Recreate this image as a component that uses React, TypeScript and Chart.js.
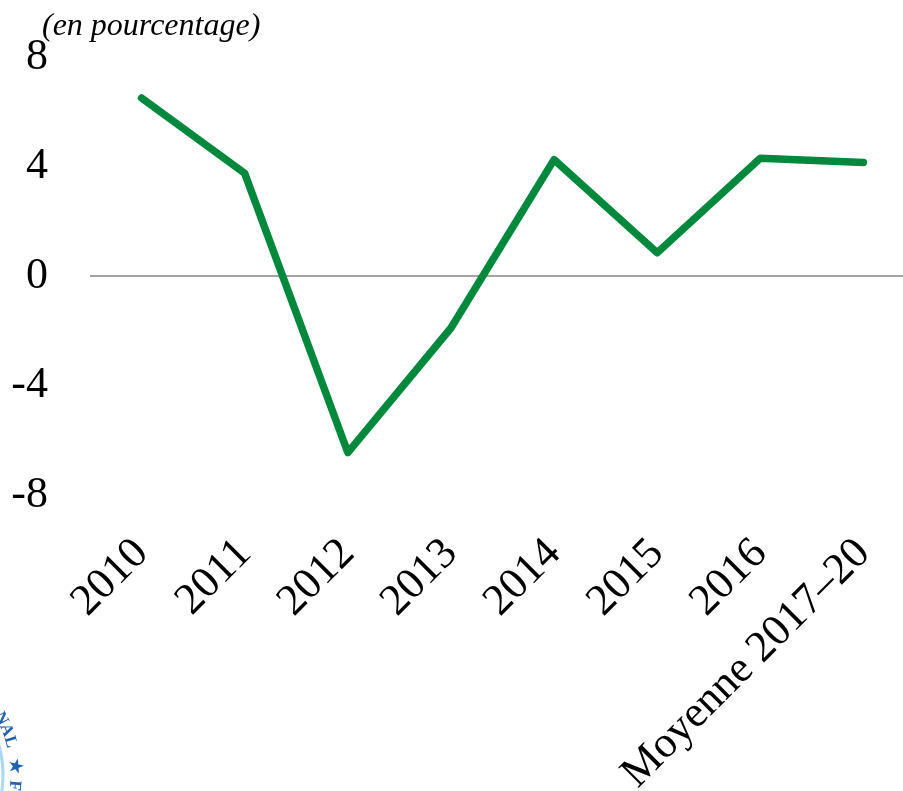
import React, { useEffect, useRef } from "react";
import { Chart, registerables } from "chart.js";

Chart.register(...registerables);

const categories: string[] = ["2010", "2011", "2012", "2013", "2014", "2015", "2016", "Moyenne 2017–20"];
const values: number[] = [6.5, 3.75, -6.45, -1.9, 4.25, 0.85, 4.3, 4.15];
const yMin = -8;
const yMax = 8;
const yStep = 4;
const unitLabel = "(en pourcentage)";
const sealLetters: { ch: string; deg: number }[] = [
  { ch: "N", deg: -28 },
  { ch: "A", deg: -22 },
  { ch: "L", deg: -16 },
  { ch: "★", deg: -4 },
  { ch: "F", deg: 5 },
];

const FONT = "'Liberation Serif', 'Times New Roman', serif";

const decorPlugin = {
  id: "decor",
  afterDraw(chart: any) {
    const ctx = chart.ctx as CanvasRenderingContext2D;
    ctx.save();
    ctx.fillStyle = "#000";
    ctx.font = `italic 32px ${FONT}`;
    ctx.textAlign = "left";
    ctx.textBaseline = "alphabetic";
    ctx.fillText(unitLabel, 42, 35);

    // partial seal in bottom-left corner
    const cx = -105;
    const cy = 775;
    ctx.strokeStyle = "#a8d8f5";
    ctx.lineWidth = 3;
    ctx.beginPath();
    ctx.arc(cx, cy, 108, -0.6, 0.6);
    ctx.stroke();
    ctx.fillStyle = "#1f63b0";
    ctx.font = `bold 17px ${FONT}`;
    ctx.textAlign = "center";
    ctx.textBaseline = "middle";
    for (const l of sealLetters) {
      const th = (l.deg * Math.PI) / 180;
      ctx.save();
      ctx.translate(cx + 120 * Math.cos(th), cy + 120 * Math.sin(th));
      ctx.rotate(th + Math.PI / 2);
      ctx.fillText(l.ch, 0, 0);
      ctx.restore();
    }
    ctx.restore();
  },
};

const zeroPad = (scale: any) => {
  scale.paddingTop = 0;
  scale.paddingBottom = 0;
  scale.paddingLeft = 0;
  scale.paddingRight = 0;
};

export default function App() {
  const ref = useRef<HTMLCanvasElement | null>(null);
  useEffect(() => {
    document.body.style.margin = "0";
    const canvas = ref.current;
    if (!canvas) return;
    const chart = new Chart(canvas, {
      type: "line",
      data: {
        labels: categories,
        datasets: [
          {
            data: values,
            borderColor: "#00893D",
            borderWidth: 7.5,
            borderCapStyle: "round",
            borderJoinStyle: "round",
            pointRadius: 0,
            fill: false,
            tension: 0,
          },
        ],
      },
      options: {
        animation: false,
        responsive: false,
        layout: { padding: { top: 57, left: 0, right: 0, bottom: 0 } },
        plugins: { legend: { display: false }, tooltip: { enabled: false }, title: { display: false } },
        scales: {
          x: {
            offset: true,
            grid: { display: false },
            border: { display: false },
            ticks: {
              color: "#000",
              font: { family: FONT, size: 44 },
              minRotation: 45,
              maxRotation: 45,
              autoSkip: false,
              padding: 25,
            },
            afterFit: (scale: any) => {
              scale.height = 296;
              zeroPad(scale);
            },
          },
          y: {
            min: yMin,
            max: yMax,
            border: { display: false },
            grid: {
              drawTicks: false,
              color: (c: any) => (c.tick && c.tick.value === 0 ? "#a3a3a3" : "rgba(0,0,0,0)"),
              lineWidth: (c: any) => (c.tick && c.tick.value === 0 ? 2 : 0),
            },
            ticks: {
              stepSize: yStep,
              color: "#000",
              font: { family: FONT, size: 44 },
              padding: 42,
              callback: (v: any) => String(v),
            },
            afterFit: (scale: any) => {
              scale.width = 90;
              zeroPad(scale);
            },
          },
        },
      },
      plugins: [decorPlugin],
    });
    return () => chart.destroy();
  }, []);
  return (
    <div style={{ width: 903, height: 791, overflow: "hidden" }}>
      <canvas ref={ref} width={915} height={791} style={{ display: "block" }} />
    </div>
  );
}
